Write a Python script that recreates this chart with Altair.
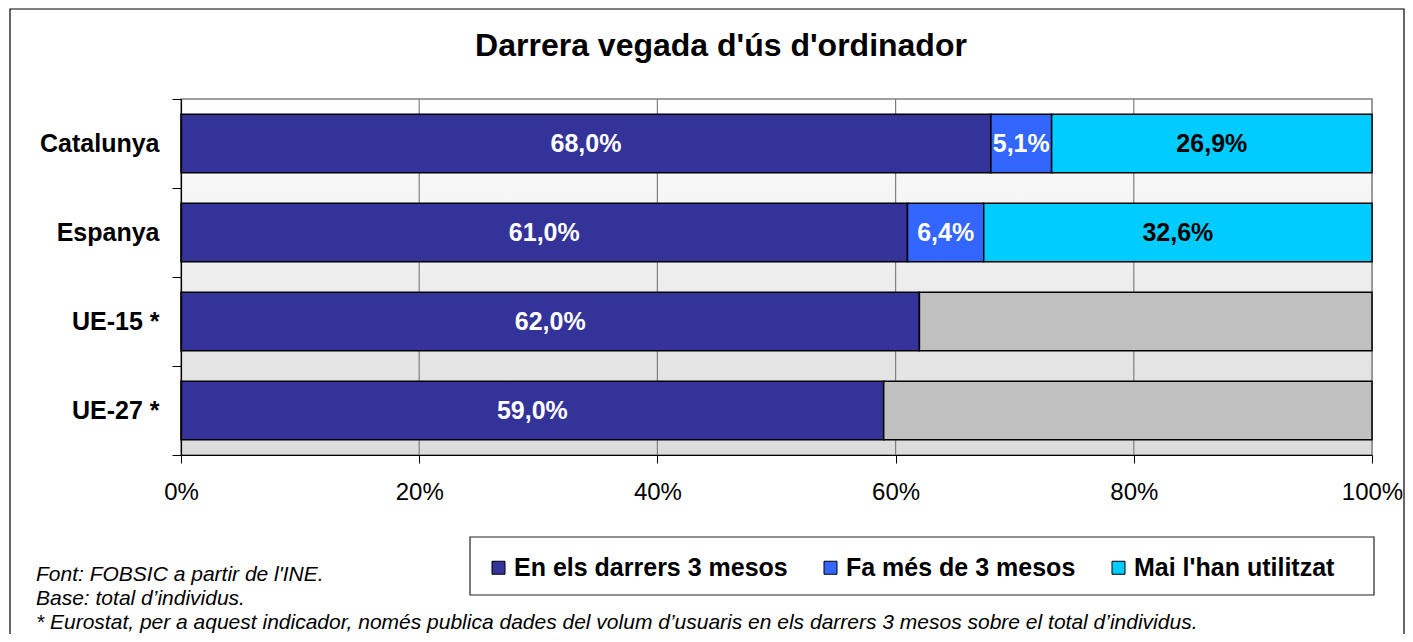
import altair as alt
import pandas as pd

countries = ["Catalunya", "Espanya", "UE-15 *", "UE-27 *"]
series = ["En els darrers 3 mesos", "Fa més de 3 mesos", "Mai l'han utilitzat", "Resta"]
recent = [68.0, 61.0, 62.0, 59.0]
older = [5.1, 6.4, None, None]
never = [26.9, 32.6, None, None]
rest = [None, None, 38.0, 41.0]
colors = ["#333399", "#3366FF", "#00CCFF", "#C0C0C0"]
x_ticks = [0, 20, 40, 60, 80, 100]
title_text = "Darrera vegada d'ús d'ordinador"
notes = [
    "Font: FOBSIC a partir de l'INE.",
    "Base: total d\u2019individus.",
    "* Eurostat, per a aquest indicador, només publica dades del volum d\u2019usuaris en els darrers 3 mesos sobre el total d\u2019individus.",
]

rows = []
for i, c in enumerate(countries):
    start = 0.0
    for s, vals in zip(series, [recent, older, never, rest]):
        v = vals[i]
        if v is None:
            continue
        lab = "" if s == "Resta" else f"{v:.1f}".replace(".", ",") + "%"
        rows.append(dict(country=c, series=s, start=start, end=start + v,
                         mid=start + v / 2, label=lab))
        start += v
df = pd.DataFrame(rows)
grid_df = pd.DataFrame({"t": x_ticks[1:-1]})

W, H = 1191, 356
FONT = "Liberation Sans"
one = alt.Data(values=[{}])

xscale = alt.Scale(domain=[0, 100], nice=False, zero=True)
yscale = alt.Scale(domain=countries, paddingInner=0, paddingOuter=0)

frame = alt.Chart(one).mark_rect(filled=False, stroke="black", strokeWidth=1.2).encode(
    x=alt.value(-171), x2=alt.value(1223), y=alt.value(-90), y2=alt.value(700))

bg = alt.Chart(one).mark_rect(
    fill=alt.Gradient(gradient="linear", x1=0, y1=0, x2=0, y2=1,
                      stops=[alt.GradientStop(color="#ffffff", offset=0),
                             alt.GradientStop(color="#dcdcdc", offset=1)]),
    stroke="#808080", strokeWidth=1.5).encode(
    x=alt.value(0), x2=alt.value(W), y=alt.value(0), y2=alt.value(H))

grid = alt.Chart(grid_df).mark_rule(color="#808080", strokeWidth=1.2).encode(
    x=alt.X("t:Q", scale=xscale, title=None))

bars = alt.Chart(df).mark_bar(stroke="black", strokeWidth=1.5,
                              height=alt.RelativeBandSize(band=0.66)).encode(
    y=alt.Y("country:N", sort=countries, scale=yscale, title=None,
            axis=alt.Axis(tickBand="extent", tickSize=9, tickColor="black",
                          domainColor="black", domainWidth=1.2, labelFontSize=25,
                          labelFontWeight="bold", labelColor="black", labelPadding=13,
                          labelFont=FONT, zindex=1)),
    x=alt.X("start:Q", scale=xscale, title=None,
            axis=alt.Axis(values=x_ticks, labelExpr="datum.value + '%'", grid=False,
                          labelFlush=False, tickSize=8, tickColor="black",
                          domainColor="black", domainWidth=1.2, labelFontSize=24,
                          labelColor="black", labelPadding=17, labelFont=FONT,
                          zindex=1)),
    x2="end:Q",
    color=alt.Color("series:N", scale=alt.Scale(domain=series, range=colors),
                    legend=alt.Legend(values=series[:3], title=None, orient="none",
                                      direction="horizontal", legendX=305, legendY=456,
                                      symbolType="square", symbolSize=169,
                                      symbolStrokeColor="black", symbolStrokeWidth=1,
                                      labelFontSize=25, labelFontWeight="bold",
                                      labelFont=FONT, labelColor="black", labelLimit=0,
                                      labelOffset=3, columnPadding=30, padding=0)),
)

labels = alt.Chart(df).transform_filter("datum.label != ''").mark_text(
    fontSize=25, fontWeight="bold", font=FONT, baseline="middle", align="center").encode(
    x=alt.X("mid:Q", scale=xscale),
    y=alt.Y("country:N", sort=countries, scale=yscale),
    text="label:N",
    color=alt.condition("datum.series == \"Mai l'han utilitzat\"",
                        alt.value("black"), alt.value("white")),
)

legend_box = alt.Chart(one).mark_rect(filled=False, stroke="#222222", strokeWidth=1.2).encode(
    x=alt.value(289), x2=alt.value(1193), y=alt.value(438), y2=alt.value(496))

title = alt.Chart(one).mark_text(fontSize=32, fontWeight="bold", font=FONT,
                                 align="center", baseline="alphabetic").encode(
    x=alt.value(540), y=alt.value(-43), text=alt.value(title_text))

footnotes = alt.Chart(one).mark_text(fontSize=21, fontStyle="italic", font=FONT,
                                     align="left", baseline="alphabetic",
                                     lineHeight=24).encode(
    x=alt.value(-145), y=alt.value(482), text=alt.value(notes))

chart = alt.layer(frame, bg, grid, bars, labels, legend_box, title, footnotes).properties(
    width=W, height=H,
    autosize=alt.AutoSizeParams(type="none"),
    padding={"left": 173, "top": 91, "right": 33, "bottom": 179},
).configure_view(stroke=None).configure(font=FONT, background="white")

chart.save("out.html", embed_options={"renderer": "svg", "actions": False})
